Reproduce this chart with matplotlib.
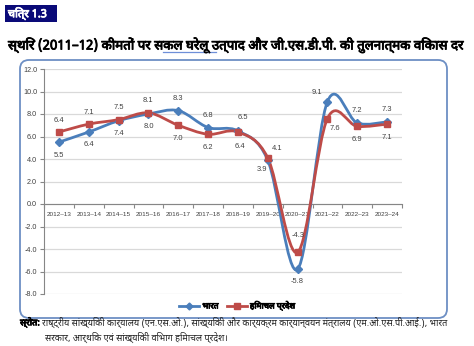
import matplotlib
matplotlib.use("Agg")
import matplotlib.pyplot as plt
import matplotlib.patheffects as pe
from matplotlib.path import Path
from matplotlib.patches import PathPatch, FancyBboxPatch, Rectangle
from matplotlib.lines import Line2D
import numpy as np

years = ['2012-13', '2013-14', '2014-15', '2015-16', '2016-17', '2017-18',
         '2018-19', '2019-20', '2020-21', '2021-22', '2022-23', '2023-24']
india = [5.5, 6.4, 7.4, 8.0, 8.3, 6.8, 6.5, 3.9, -5.8, 9.1, 7.2, 7.3]
himachal = [6.4, 7.1, 7.5, 8.1, 7.0, 6.2, 6.4, 4.1, -4.3, 7.6, 6.9, 7.1]
names = ['भारत', 'हिमाचल प्रदेश']

HI = ['Noto Sans Devanagari', 'Liberation Sans', 'DejaVu Sans']
NUM = ['Liberation Sans', 'DejaVu Sans']
blue = '#4A7EBB'
red = '#BE4B48'
W, H = 474, 346


def px(x, y):
    # pixel position (from top left) -> figure fraction
    return x / W, 1 - y / H


def bold(c):
    # the devanagari font here has no bold face, so thicken the strokes
    return [pe.withStroke(linewidth=0.6, foreground=c)]


def smooth_path(xs, ys):
    # Excel style smoothed line: catmull-rom as cubic bezier
    pts = np.c_[xs, ys]
    n = len(pts)
    verts = [pts[0]]
    codes = [Path.MOVETO]
    for i in range(n - 1):
        p0 = pts[max(i - 1, 0)]
        p1 = pts[i]
        p2 = pts[i + 1]
        p3 = pts[min(i + 2, n - 1)]
        c1 = p1 + (p2 - p0) / 6
        c2 = p2 - (p3 - p1) / 6
        verts += [c1, c2, p2]
        codes += [Path.CURVE4] * 3
    return Path(verts, codes)


fig = plt.figure(figsize=(W / 100, H / 100), dpi=100)

# frame round the chart
frame = FancyBboxPatch((20 / 100, (H - 318) / 100), 427 / 100, 258 / 100,
                       boxstyle='round,pad=0,rounding_size=0.09',
                       transform=fig.dpi_scale_trans, facecolor='none',
                       edgecolor='#6D8FC4', linewidth=1.3, zorder=0)
fig.patches.append(frame)

# figure number
fig.patches.append(Rectangle(px(5, 22), 52 / W, 17 / H, transform=fig.transFigure,
                             facecolor='#0A0A78', edgecolor='none'))
fig.text(*px(8, 14), 'चित्र 1.3', family=HI, fontsize=8, color='white', va='center',
         ha='left', path_effects=bold('white'))

fig.text(*px(8, 45), 'स्थिर (2011–12) कीमतों पर सकल घरेलू उत्पाद और जी.एस.डी.पी. की तुलनात्मक विकास दर',
         family=HI, fontsize=9.6, va='center', ha='left', color='black',
         path_effects=bold('black'))
fig.lines.append(Line2D([163 / W, 216 / W], [1 - 52 / H] * 2, transform=fig.transFigure,
                        color='#6E8FD8', lw=0.9))

l, b = px(44, 294)
r, t = px(402, 69)
ax = fig.add_axes([l, b, r - l, t - b])
ax.set_facecolor('none')
x = np.arange(len(years))

ax.set_xlim(-0.5, len(years) - 0.5)
ax.set_ylim(-8, 12)
ax.set_yticks(np.arange(-8, 12.1, 2))
ax.set_yticklabels(['%.1f' % v for v in np.arange(-8, 12.1, 2)], family=NUM, fontsize=5.2,
                   color='#404040')
ax.yaxis.grid(True, color='#D9D9D9', lw=0.9)
ax.set_axisbelow(True)
for s in ['top', 'right']:
    ax.spines[s].set_visible(False)
ax.spines['left'].set_color('#868686')
ax.spines['bottom'].set_color('#868686')
ax.spines['bottom'].set_position(('data', 0))
ax.tick_params(axis='y', length=3, width=0.8, color='#868686', pad=2)
ax.set_xticks(np.arange(-0.5, len(years), 1))
ax.set_xticklabels([])
ax.tick_params(axis='x', length=3, width=0.8, color='#868686', direction='out')
for i, yr in enumerate(years):
    ax.annotate(yr.replace('-', '–'), (i, 0), xytext=(0, -10), textcoords='offset pixels',
                ha='center', va='center', family=NUM, fontsize=4.6, color='#404040')

for vals, c, m, ms in [(india, blue, 'D', 4.2), (himachal, red, 's', 5.0)]:
    ax.add_patch(PathPatch(smooth_path(x, vals), facecolor='none', edgecolor=c, lw=2.0,
                           capstyle='round', joinstyle='round', zorder=3))
    ax.plot(x, vals, linestyle='none', marker=m, ms=ms, color=c, mec=c, zorder=4)

# data labels: higher value above, lower below (a few nudged as in the source)
nudge = {
    (6, 'up'): (5, 13), (6, 'dn'): (2, -15),
    (7, 'up'): (9, 9), (7, 'dn'): (-6, -9),
    (8, 'up'): (1, 17), (8, 'dn'): (0, -12),
    (9, 'up'): (-10, 9), (9, 'dn'): (7, -10),
}
for i in range(len(years)):
    hi_v = max(india[i], himachal[i])
    lo_v = min(india[i], himachal[i])
    for v, key, dflt in [(hi_v, 'up', (0, 12)), (lo_v, 'dn', (0, -13))]:
        off = nudge.get((i, key), dflt)
        ax.annotate('%.1f' % v, (i, v), xytext=off, textcoords='offset pixels',
                    ha='center', va='center', family=NUM, fontsize=5.4, color='#404040',
                    zorder=5)

handles = [Line2D([], [], color=blue, lw=2, marker='D', ms=3.5),
           Line2D([], [], color=red, lw=2, marker='s', ms=4)]
leg = fig.legend(handles, names, loc='center', bbox_to_anchor=px(237, 306), ncol=2,
                 frameon=False, prop={'family': HI, 'size': 6}, handlelength=2.4,
                 handletextpad=0.4, columnspacing=1.0)
for txt in leg.get_texts():
    txt.set_path_effects(bold('black'))

fig.text(*px(20, 322), 'स्रोत:', family=HI, fontsize=6.5, va='center', ha='left',
         path_effects=bold('black'))
fig.text(*px(42, 322), 'राष्ट्रीय सांख्यिकी कार्यालय (एन.एस.ओ.), सांख्यिकी और कार्यक्रम कार्यान्वयन मंत्रालय (एम.ओ.एस.पी.आई.), भारत',
         family=HI, fontsize=6.6, va='center', ha='left', color='#222222')
fig.text(*px(45, 337), 'सरकार, आर्थिक एवं सांख्यिकी विभाग हिमाचल प्रदेश।',
         family=HI, fontsize=6.6, va='center', ha='left', color='#222222')

fig.savefig('out.png', dpi=100)
